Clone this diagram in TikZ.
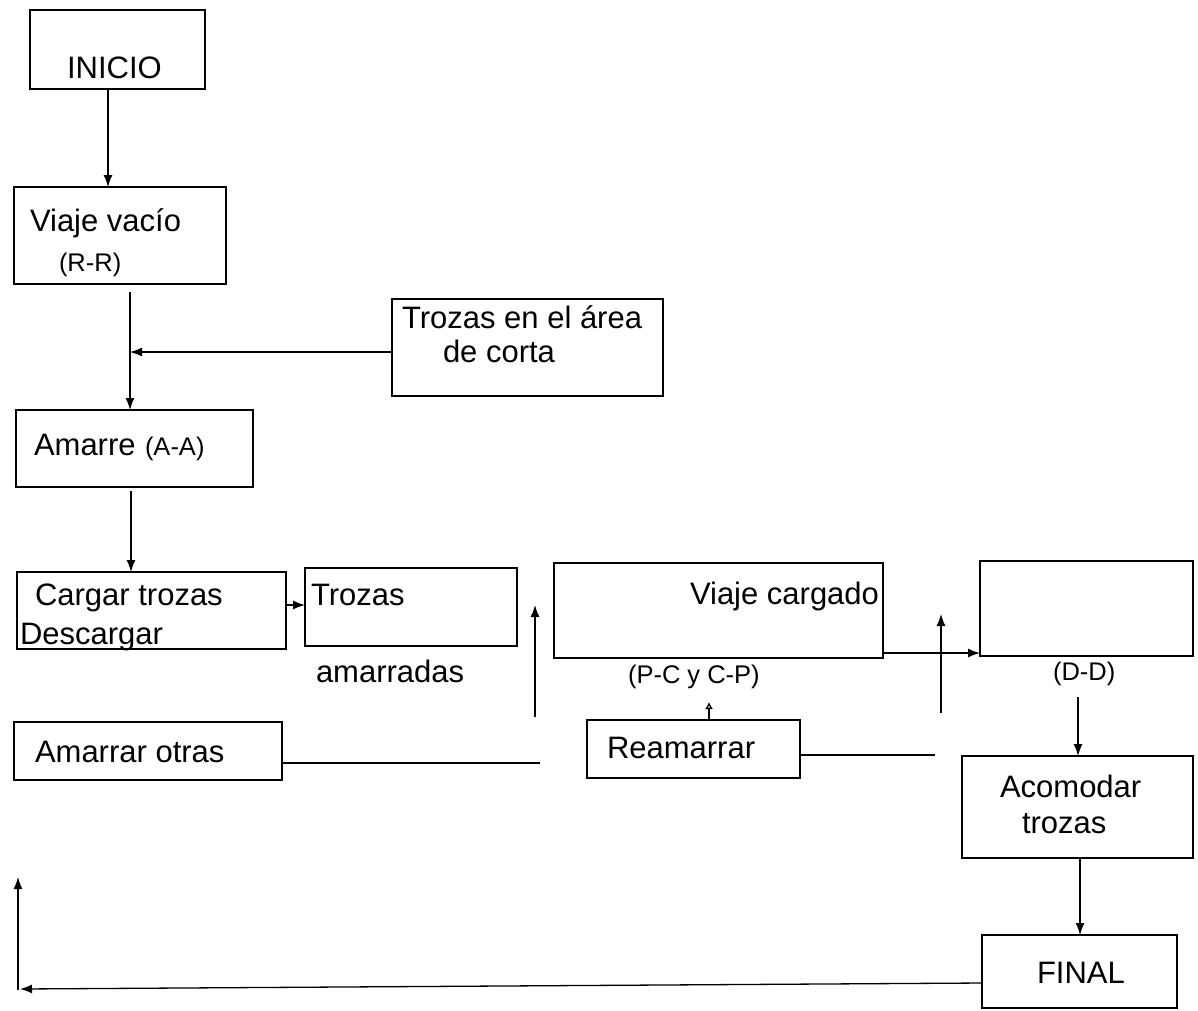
\documentclass[tikz,border=0pt]{standalone}
\usepackage{fontspec}
\setmainfont{Liberation Sans}
\usetikzlibrary{arrows.meta}
\begin{document}
\begin{tikzpicture}[x=1pt,y=-1pt,
  box/.style={draw, line width=1.4pt, rectangle, inner sep=0pt, outer sep=0pt, anchor=north west},
  lbl/.style={anchor=base west, inner sep=0pt, outer sep=0pt, font=\fontsize{31}{36}\selectfont},
  sml/.style={anchor=base west, inner sep=0pt, outer sep=0pt, font=\fontsize{25.5}{30}\selectfont},
  conn/.style={line width=1.3pt},
  arr/.style={conn, -{Latex[length=12pt,width=9pt]}},
  arrs/.style={conn, -{Latex[length=7pt,width=8pt,open]}}]
\useasboundingbox (0,0) rectangle (1198,1010);
\fill[white] (0,0) rectangle (1198,1010);
% boxes
\node[box, minimum width=175pt, minimum height=79pt] (inicio) at (30,10) {};
\node[box, minimum width=212pt, minimum height=97pt] (vvacio) at (14,187) {};
\node[box, minimum width=271pt, minimum height=97pt] (tarea) at (392,299) {};
\node[box, minimum width=237pt, minimum height=77pt] (amarre) at (16,410) {};
\node[box, minimum width=269pt, minimum height=77pt] (cargar) at (17,572) {};
\node[box, minimum width=212pt, minimum height=78pt] (tamarr) at (305,568) {};
\node[box, minimum width=329pt, minimum height=95pt] (vcarg) at (554,563) {};
\node[box, minimum width=213pt, minimum height=95pt] (dd) at (980,561) {};
\node[box, minimum width=268pt, minimum height=58pt] (aotras) at (14,722) {};
\node[box, minimum width=213pt, minimum height=58pt] (ream) at (587,720) {};
\node[box, minimum width=231pt, minimum height=102pt] (acom) at (962,756) {};
\node[box, minimum width=195pt, minimum height=73pt] (final) at (982,935) {};
% texts
\node[lbl] (t1) at (67,78) {INICIO};
\node[lbl] (t2) at (30,231) {Viaje vacío};
\node[sml] (t3) at (59,271) {(R-R)};
\node[lbl] (t4) at (402,328) {Trozas en el área};
\node[lbl] (t5) at (443,362) {de corta};
\node[lbl] (t6) at (34,455) {Amarre};
\node[sml] (t7) at (145,455) {(A-A)};
\node[lbl] (t8) at (35,605) {Cargar trozas};
\node[lbl] (t9) at (20,644) {Descargar};
\node[lbl] (t10) at (311,605) {Trozas};
\node[lbl] (t11) at (316,682) {amarradas};
\node[lbl] (t12) at (690,604) {Viaje cargado};
\node[sml] (t13) at (628,683) {(P-C y C-P)};
\node[sml] (t14) at (1053,680) {(D-D)};
\node[lbl] (t15) at (35,762) {Amarrar otras};
\node[lbl] (t16) at (607,758) {Reamarrar};
\node[lbl] (t17) at (1000,797) {Acomodar};
\node[lbl] (t18) at (1022,833) {trozas};
\node[lbl] (t19) at (1037,983) {FINAL};
% guide coordinates
\coordinate (a1) at (108,0);
\coordinate (s2) at (130,292);
\coordinate (j3) at (130,352);
\coordinate (s4) at (131,491);
\coordinate (y5) at (0,605);
\coordinate (u6a) at (535,717);
\coordinate (u6b) at (535,605);
\coordinate (e7) at (540,763);
\coordinate (t8c) at (709,702);
\coordinate (e9) at (935,755);
\coordinate (u10a) at (941,713);
\coordinate (u10b) at (941,614);
\coordinate (y11) at (0,653);
\coordinate (s12) at (1078,697);
\coordinate (x13) at (1080,0);
\coordinate (y14) at (0,983);
\coordinate (e14) at (20,989);
\coordinate (u15a) at (18,990);
\coordinate (u15b) at (18,877);
% connectors
\draw[arr] (a1 |- inicio.south) -- (a1 |- vvacio.north);
\draw[arr] (s2) -- (s2 |- amarre.north);
\draw[arr] (j3 -| tarea.west) -- (j3);
\draw[arr] (s4) -- (s4 |- cargar.north);
\draw[arr] (y5 -| cargar.east) -- (y5 -| tamarr.west);
\draw[arr] (u6a) -- (u6b);
\draw[conn, line width=2pt] (e7 -| aotras.east) -- (e7);
\draw[arrs] (t8c |- ream.north) -- (t8c);
\draw[conn] (e9 -| ream.east) -- (e9);
\draw[arr] (u10a) -- (u10b);
\draw[arr] (y11 -| vcarg.east) -- (y11 -| dd.west);
\draw[arr] (s12) -- (s12 |- acom.north);
\draw[arr] (x13 |- acom.south) -- (x13 |- final.north);
\draw[arr] (y14 -| final.west) -- (e14);
\draw[arr] (u15a) -- (u15b);
\end{tikzpicture}
\end{document}
